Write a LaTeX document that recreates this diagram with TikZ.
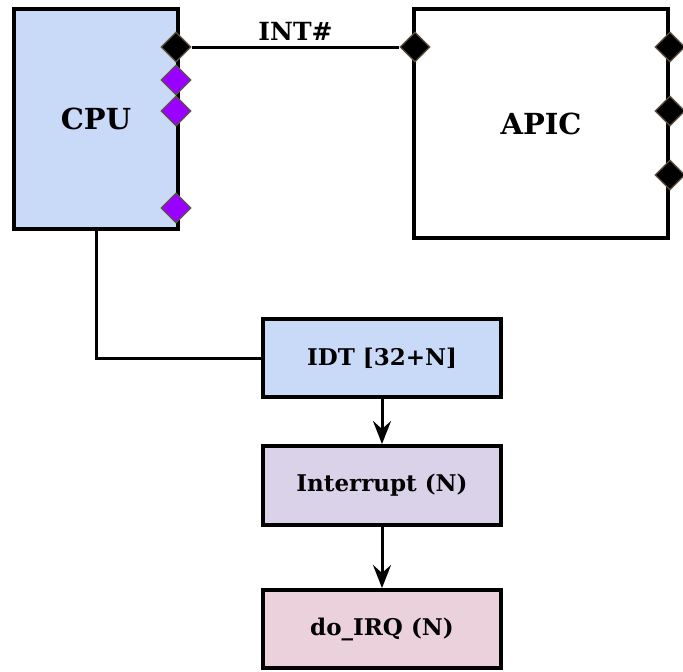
\documentclass[tikz,border=0pt]{standalone}
\usepackage{fontspec}
\setmainfont{DejaVu Serif}
\usetikzlibrary{shapes.geometric,arrows.meta}

\definecolor{cpublue}{HTML}{C9DAF8}
\definecolor{irqlilac}{HTML}{D9D2E9}
\definecolor{doirqpink}{HTML}{EAD1DC}
\definecolor{pinpurple}{HTML}{9900FF}
\definecolor{pinedge}{HTML}{5D5340}

\tikzset{
  unit/.style={draw, line width=4pt, inner sep=0pt, font=\bfseries\fontsize{29}{33}\selectfont},
  stage/.style={unit, minimum width=238pt, font=\bfseries\fontsize{23}{27}\selectfont},
  pin/.style={diamond, draw=pinedge, line width=1.2pt, fill=black, minimum width=30pt, minimum height=30pt, inner sep=0pt},
  wire/.style={line width=3pt},
  flow/.style={wire, -{Stealth[length=23pt, width=18pt, inset=8pt]}},
}

\begin{document}
\begin{tikzpicture}[x=1pt, y=1pt]
  \useasboundingbox (0,0) rectangle (683,-672);

  % Main blocks
  \node[unit, fill=cpublue, minimum width=164pt, minimum height=220pt] (cpu) at (96,-119) {CPU};
  \node[unit, fill=white, minimum width=254pt, minimum height=229pt] (apic) at (541,-123.5) {APIC};

  % Pins on the CPU and APIC edges
  \node[pin] (cpuint) at (176,-47) {};
  \foreach \y [count=\i] in {-80, -111, -208} {
    \node[pin, fill=pinpurple] (cpupin\i) at (176,\y) {};
  }
  \node[pin] (apicint) at (415,-47) {};
  \foreach \y [count=\i] in {-47, -111, -175} {
    \node[pin] (apicpin\i) at (670,\y) {};
  }

  % INT# line
  \draw[wire] (cpuint.east) -- node[above=2pt, font=\bfseries\fontsize{25}{29}\selectfont] (intlabel) {INT\#} (apicint.west);

  % Interrupt path
  \node[stage, fill=cpublue, minimum height=78pt] (idt) at (382,-358) {IDT [32+N]};
  \node[stage, fill=irqlilac, minimum height=79pt] (irq) at (382,-485.5) {Interrupt (N)};
  \node[stage, fill=doirqpink, minimum height=78pt] (doirq) at (382,-629) {do\_IRQ (N)};

  \draw[wire] (cpu.south) |- (idt.west);
  \draw[flow] (idt) -- (irq);
  \draw[flow] (irq) -- (doirq);
\end{tikzpicture}
\end{document}
